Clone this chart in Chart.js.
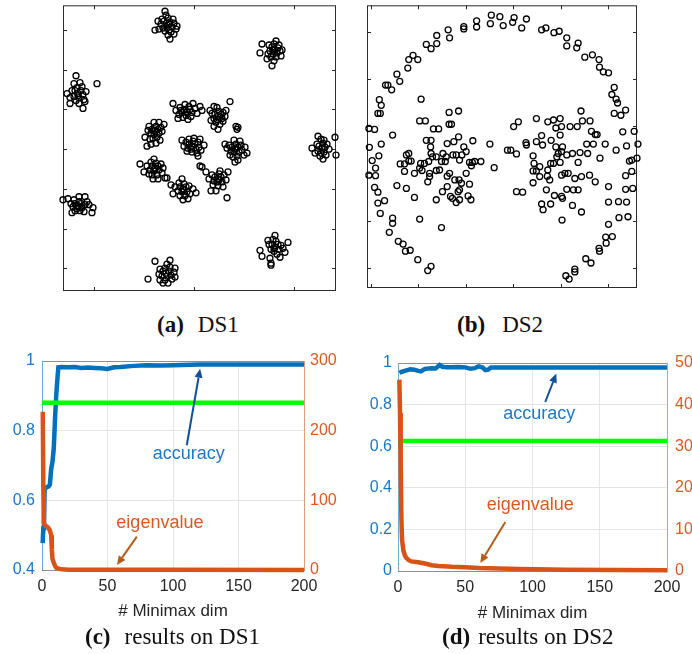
<!DOCTYPE html>
<html>
<head>
<meta charset="utf-8">
<script src="https://cdn.jsdelivr.net/npm/chart.js@4.4.1/dist/chart.umd.min.js"></script>
<style>
  html, body { margin: 0; padding: 0; background: #fff; overflow: hidden; }
  #wrap { position: relative; width: 692px; height: 654px; overflow: hidden; background: #fff; }
  canvas { position: absolute; }
  .cap { position: absolute; font-family: 'Liberation Serif', 'Times New Roman', serif; font-size: 23px;
         color: #111; white-space: nowrap; line-height: 23px; }
  .cap b { font-weight: bold; }
</style>
</head>
<body>
<div id="wrap">
  <canvas id="ds1" width="293" height="301" style="left:53px;top:0px"></canvas>
  <canvas id="ds2" width="290" height="298" style="left:357px;top:0px"></canvas>
  <canvas id="resC" width="350" height="290" style="left:0px;top:340px"></canvas>
  <canvas id="resD" width="360" height="290" style="left:350px;top:340px"></canvas>

  <div class="cap" style="left:157px;top:313px"><b>(a)</b><span style="margin-left:14px">DS1</span></div>
  <div class="cap" style="left:457px;top:313px"><b>(b)</b><span style="margin-left:17px">DS2</span></div>
  <div class="cap" style="left:85px;top:625px"><b>(c)</b><span style="margin-left:14px">results on DS1</span></div>
  <div class="cap" style="left:442px;top:625px"><b>(d)</b><span style="margin-left:8px">results on DS2</span></div>
</div>

<script>
// ---------- DS1: fifteen Gaussian blobs (7 outer, 7 on a ring, 1 in the middle) ----------
const dsOneTop = [[-2.7,12.5],[-2.4,12.8],[-3.0,12.9],[-2.2,12.3],[-3.1,12.2],[-2.6,13.2],[-2.9,11.9],[-2.3,11.8],[-3.3,12.6],[-2.0,12.7],[-2.5,12.0],[-2.8,13.5],[-3.5,12.1],[-1.8,12.1],[-2.1,13.1],[-3.2,13.1],[-2.6,11.5],[-2.9,13.9],[-2.4,11.1],[-3.9,12.0],[-1.7,12.4],[-2.0,11.6],[-3.6,12.9],[-2.7,12.2],[-2.5,12.6]];
const dsOneTopRight = [[8.1,10.0],[7.8,10.3],[8.4,10.2],[7.9,9.6],[8.3,9.7],[8.0,10.6],[7.6,9.9],[8.6,9.9],[8.2,9.3],[7.7,9.3],[8.5,10.5],[7.5,10.5],[8.8,10.0],[6.8,10.6],[6.6,9.7],[7.8,8.4],[7.3,9.1],[8.0,8.9],[8.7,9.4],[8.2,10.9],[7.4,9.6],[8.0,10.1],[7.9,10.0]];
const dsOneLeft = [[-11.6,5.6],[-11.3,5.9],[-11.9,5.9],[-11.5,5.2],[-11.1,5.5],[-12.0,5.3],[-11.7,6.2],[-11.2,6.3],[-11.8,4.9],[-11.0,5.0],[-12.2,5.9],[-11.4,6.7],[-10.8,5.8],[-12.4,5.2],[-11.8,7.4],[-9.7,6.6],[-12.7,5.6],[-12.4,4.6],[-11.1,4.1],[-11.5,4.6],[-10.9,4.8],[-12.0,6.6],[-11.6,5.4]];
const dsOneRight = [[12.8,0.0],[12.5,0.3],[13.1,0.2],[12.7,-0.4],[13.0,-0.3],[12.4,-0.2],[12.9,0.6],[13.3,0.5],[12.3,0.5],[12.6,-0.7],[13.2,-0.6],[12.9,-1.0],[11.8,0.1],[12.4,1.3],[12.7,1.0],[14.1,1.2],[14.2,-0.6],[13.5,0.0],[12.1,-0.4],[13.0,0.9]];
const dsOneLeftLow = [[-11.6,-5.7],[-11.9,-5.5],[-11.3,-5.5],[-11.7,-6.0],[-11.2,-5.9],[-12.1,-5.8],[-11.5,-5.3],[-12.3,-5.5],[-10.9,-5.6],[-11.4,-6.2],[-11.9,-6.2],[-10.7,-5.3],[-12.6,-5.0],[-13.1,-5.1],[-11.5,-4.8],[-10.9,-4.8],[-10.1,-5.9],[-10.2,-6.4],[-12.2,-6.4],[-11.0,-6.3],[-10.5,-5.6],[-12.0,-5.1],[-11.6,-5.8]];
const dsOneBottomRight = [[8.1,-9.9],[7.8,-9.6],[8.4,-9.6],[8.0,-10.3],[8.5,-10.1],[7.7,-10.1],[8.2,-9.3],[8.7,-9.7],[7.5,-9.6],[8.3,-10.6],[8.9,-10.0],[7.9,-9.1],[9.4,-9.4],[6.6,-10.2],[6.8,-10.8],[7.6,-11.0],[7.7,-11.5],[7.7,-11.7],[7.4,-9.2],[8.1,-8.7],[8.6,-10.9],[9.1,-10.4],[8.0,-10.0]];
const dsOneBottom = [[-2.8,-12.5],[-2.5,-12.3],[-3.1,-12.3],[-2.7,-12.8],[-2.3,-12.7],[-3.2,-12.8],[-2.9,-12.0],[-2.4,-11.9],[-3.4,-12.1],[-2.2,-13.1],[-2.9,-13.2],[-2.0,-12.4],[-4.6,-13.1],[-3.9,-11.3],[-2.4,-11.2],[-3.4,-13.2],[-3.1,-13.5],[-1.9,-12.0],[-1.9,-12.9],[-2.6,-13.5],[-3.5,-12.6],[-2.7,-11.6]];
const dsOneRing1 = [[-0.7,3.8],[-1.0,4.0],[-0.4,4.0],[-1.2,3.7],[-0.2,3.7],[-0.8,3.4],[-0.5,4.3],[-1.4,4.2],[0.1,4.1],[-0.9,4.5],[-1.5,3.5],[0.3,3.6],[-0.3,3.3],[-1.1,3.2],[0.6,4.3],[-2.1,4.6],[-1.8,3.9],[-0.6,3.0],[0.8,3.9],[-1.6,3.1],[-0.1,4.6],[-0.7,3.7],[-1.3,3.9]];
const dsOneRing2 = [[2.4,3.3],[2.1,3.5],[2.7,3.5],[2.3,3.0],[2.8,3.1],[2.0,3.1],[2.5,3.8],[2.9,3.7],[1.8,3.6],[2.2,2.7],[2.6,2.5],[3.1,3.3],[1.7,2.9],[2.9,2.8],[2.3,4.2],[3.6,4.8],[2.0,4.3],[3.2,3.9],[2.4,2.0],[2.0,2.3],[1.6,3.9],[4.3,2.0],[4.2,2.3],[4.4,2.2],[2.6,3.2]];
const dsOneRing3 = [[-3.9,1.8],[-4.2,2.0],[-3.6,2.0],[-4.0,1.5],[-3.5,1.6],[-4.3,1.6],[-3.8,2.3],[-3.3,2.2],[-4.5,2.3],[-3.7,1.2],[-4.1,1.1],[-3.4,0.9],[-4.6,1.9],[-3.2,1.8],[-4.0,2.7],[-3.5,2.7],[-4.4,1.0],[-3.8,0.6],[-3.0,2.5],[-4.3,0.5],[-3.9,1.9],[-4.9,1.2]];
const dsOneRing4 = [[4.1,0.0],[3.8,0.2],[4.4,0.2],[4.0,-0.3],[4.5,-0.3],[3.7,-0.2],[4.2,0.5],[4.7,0.4],[3.5,0.4],[4.3,-0.7],[3.9,-0.8],[4.8,-0.1],[3.3,0.1],[4.6,0.8],[4.0,0.9],[5.1,0.2],[3.1,0.5],[4.4,-1.1],[5.0,-0.6],[3.6,-0.6],[4.1,-1.3],[5.3,-0.4],[4.2,0.1]];
const dsOneRing5 = [[-3.9,-1.9],[-4.2,-1.7],[-3.6,-1.7],[-4.0,-2.2],[-3.5,-2.1],[-4.4,-2.1],[-3.8,-1.4],[-4.3,-1.3],[-3.3,-1.5],[-3.7,-2.6],[-4.2,-2.6],[-3.2,-2.4],[-4.7,-1.7],[-4.5,-2.5],[-3.1,-1.9],[-5.4,-1.5],[-4.0,-1.0],[-3.6,-3.0],[-4.1,-3.0],[-2.7,-2.9],[-2.9,-2.9],[-5.0,-2.3],[-3.9,-2.0]];
const dsOneRing6 = [[2.4,-3.0],[2.1,-2.8],[2.7,-2.8],[2.3,-3.3],[2.8,-3.3],[2.0,-3.2],[2.5,-2.5],[3.0,-2.6],[1.8,-2.6],[2.4,-3.7],[2.9,-3.8],[1.9,-3.6],[3.2,-3.1],[1.5,-3.0],[2.6,-2.2],[3.3,-4.9],[0.6,-1.7],[0.8,-1.8],[1.2,-2.3],[1.7,-4.2],[2.2,-4.2],[3.4,-2.3],[2.5,-3.1]];
const dsOneRing7 = [[-1.1,-4.0],[-1.4,-3.8],[-0.8,-3.8],[-1.2,-4.3],[-0.7,-4.3],[-1.6,-4.2],[-1.0,-3.5],[-0.5,-3.7],[-1.5,-3.4],[-0.9,-4.7],[-1.4,-4.7],[-0.4,-4.5],[-1.9,-3.8],[-2.1,-4.5],[-0.1,-4.0],[-1.2,-3.0],[-0.6,-5.0],[-1.1,-5.1],[-2.3,-3.6],[0.2,-4.4],[-1.0,-4.1]];
const dsOneCenter = [[-0.2,0.3],[-0.5,0.5],[0.1,0.5],[-0.3,0.0],[0.2,0.0],[-0.6,0.1],[-0.1,0.8],[0.4,0.7],[-0.8,0.7],[0.5,0.2],[-0.2,-0.3],[0.3,-0.4],[-0.7,-0.2],[0.7,-0.1],[-1.0,0.3],[0.0,1.1],[-0.5,1.0],[0.6,1.0],[-1.2,0.9],[0.4,-0.7],[1.0,0.4],[-0.2,0.2],[-4.7,0.3]];

const dsOneXTicks = [-10, 0, 10];
const dsOneYTicks = [-12, -8, -4, 0, 4, 8, 12];

// ---------- DS2: an outer arc and two inner blobs ----------
const dsTwoArc = [[-0.46,2.35],[-0.28,2.32],[0.02,2.30],[0.28,2.27],[-0.77,2.23],[-0.77,2.10],[-1.04,2.11],[-1.04,2.06],[-0.48,2.17],[-0.21,2.13],[-0.01,2.20],[0.18,2.08],[0.60,2.04],[0.69,2.08],[0.86,1.98],[0.97,2.01],[1.13,1.87],[1.13,1.70],[1.37,1.76],[1.34,1.66],[1.51,1.46],[1.67,1.51],[1.81,1.41],[1.82,1.25],[1.90,1.15],[2.01,1.13],[2.13,0.82],[2.08,0.67],[2.17,0.57],[2.20,0.49],[2.13,0.27],[2.27,0.23],[2.37,0.34],[2.31,-0.12],[2.55,-0.11],[2.63,-0.38],[2.39,-0.42],[2.17,-0.51],[2.50,-0.72],[2.61,-0.68],[2.45,-0.74],[2.37,-1.05],[2.50,-0.96],[2.52,-1.32],[2.37,-1.34],[2.22,-1.60],[2.39,-1.61],[2.42,-1.92],[2.23,-1.94],[2.01,-1.61],[2.01,-2.08],[2.09,-2.34],[1.95,-2.35],[1.96,-2.48],[1.81,-2.59],[1.82,-2.65],[1.64,-2.90],[1.53,-2.81],[1.30,-3.03],[1.30,-3.09],[1.11,-3.17],[1.18,-3.24],[-1.73,-2.97],[-1.80,-3.06],[-2.01,-2.83],[-2.17,-2.63],[-2.27,-2.65],[-2.32,-2.50],[-2.42,-2.44],[-2.61,-2.25],[-2.54,-1.95],[-2.54,-2.06],[-2.80,-1.85],[-2.85,-1.63],[-2.71,-1.58],[-2.92,-1.30],[-2.85,-1.40],[-3.04,-1.04],[-2.90,-0.89],[-2.90,-1.05],[-2.97,-0.73],[-3.03,-0.45],[-2.78,-0.38],[-2.83,-0.63],[-2.92,-0.07],[-3.04,-0.05],[-2.80,0.27],[-2.85,0.27],[-2.78,0.44],[-2.82,0.56],[-2.69,0.87],[-2.56,0.77],[-2.64,0.87],[-2.39,0.95],[-2.45,1.10],[-2.22,1.23],[-2.20,1.41],[-2.11,1.50],[-2.01,1.41],[-1.83,1.73],[-1.73,1.64],[-1.61,1.75],[-1.61,1.92],[-1.34,1.87],[-1.37,2.04],[-1.94,0.57],[-2.54,-0.19]];
const dsTwoLeftBlob = [[-1.35,0.29],[-1.15,0.32],[-1.97,0.11],[-1.85,0.11],[-1.35,0.04],[-1.30,0.04],[-1.57,-0.06],[-1.68,-0.06],[-1.83,-0.30],[-1.73,-0.30],[-1.39,-0.37],[-1.15,-0.23],[-1.25,-0.33],[-1.04,-0.44],[-0.85,-0.31],[-0.49,-0.38],[-1.74,-0.44],[-1.73,-0.58],[-2.20,-0.58],[-2.25,-0.61],[-2.15,-0.74],[-2.20,-0.74],[-2.38,-0.80],[-2.29,-0.80],[-1.95,-0.79],[-1.87,-0.79],[-1.78,-0.75],[-1.70,-0.65],[-1.62,-0.65],[-1.51,-0.75],[-1.55,-0.93],[-1.43,-0.75],[-1.27,-0.61],[-1.20,-0.61],[-1.08,-0.61],[-1.13,-0.72],[-0.92,-0.77],[-0.86,-0.77],[-0.81,-0.75],[-0.68,-0.75],[-0.99,-1.00],[-1.34,-1.00],[-1.39,-1.06],[-1.23,-1.14],[-1.14,-1.14],[-1.09,-1.21],[-0.92,-1.23],[-1.62,-0.94],[-1.76,-1.00],[-1.76,-1.07],[-1.80,-1.18],[-1.97,-0.89],[-2.08,-1.00],[-1.92,-0.94],[-2.29,-0.96],[-2.45,-1.26],[-2.25,-1.32],[-2.08,-1.51],[-1.62,-1.56],[-1.49,-1.39],[-1.39,-1.28],[-1.32,-1.49],[-1.28,-1.53],[-1.20,-1.62],[-1.13,-1.35],[-1.16,-1.39],[-1.13,-1.56],[-0.95,-1.48],[-0.89,-1.56],[-0.88,-0.84],[-0.99,-0.54],[-1.48,-0.58],[-1.41,-0.65],[-0.40,-0.88],[-1.97,-1.97],[-1.51,-2.15]];
const dsTwoRightBlob = [[0.11,0.09],[0.01,-0.01],[0.49,0.16],[0.73,0.09],[0.85,0.13],[0.99,0.16],[0.90,-0.04],[1.02,-0.01],[1.20,-0.01],[1.35,-0.01],[1.46,0.11],[1.62,0.11],[1.65,-0.11],[1.73,-0.18],[1.77,-0.18],[1.43,0.32],[0.60,-0.20],[0.99,-0.19],[-0.12,-0.51],[-0.05,-0.51],[0.07,-0.59],[0.27,-0.35],[0.28,-0.40],[0.49,-0.33],[0.62,-0.40],[0.80,-0.30],[0.90,-0.44],[1.04,-0.44],[0.95,-0.58],[0.92,-0.65],[0.85,-0.79],[0.73,-0.93],[0.79,-0.79],[0.99,-0.77],[1.02,-0.54],[1.13,-0.61],[1.25,-0.58],[1.41,-0.56],[1.57,-0.58],[1.55,-0.38],[1.69,-0.38],[1.83,-0.68],[1.94,-0.38],[0.42,-0.63],[0.44,-0.79],[0.42,-0.95],[0.49,-0.95],[0.56,-0.86],[0.42,-1.20],[0.56,-1.07],[0.77,-1.14],[0.72,-1.06],[1.02,-1.04],[1.16,-1.00],[1.09,-1.00],[1.30,-1.11],[1.44,-1.07],[1.61,-1.04],[1.73,-1.18],[1.37,-0.77],[1.37,-1.35],[1.27,-1.35],[1.13,-1.34],[1.02,-1.49],[1.04,-1.53],[0.87,-1.47],[0.79,-1.65],[0.60,-1.65],[0.63,-1.77],[0.70,-1.35],[0.07,-1.39],[0.20,-1.40],[1.25,-1.68],[1.44,-1.82],[1.03,-1.99],[2.01,-1.28]];

const dsTwoXTicks = [-3, -2, -1, 0, 1, 2];
const dsTwoYTicks = [-3, -2, -1, 0, 1, 2];

// ---------- accuracy / eigenvalue curves against the number of Minimax dimensions ----------
const dimTicks = [0, 50, 100, 150, 200];

const accDimDS1 = [0.5, 1, 1.5, 2, 3, 4, 5, 6, 7, 8, 9, 10, 11, 12, 12.5, 15, 20, 25, 30, 35, 40, 45, 50, 55, 60, 70, 80, 90, 100, 120, 150, 200];
const accDS1    = [0.477, 0.52, 0.53, 0.63, 0.636, 0.638, 0.64, 0.645, 0.69, 0.71, 0.75, 0.84, 0.91, 0.96, 0.982, 0.983, 0.982, 0.983, 0.98, 0.981, 0.98, 0.979, 0.977, 0.982, 0.983, 0.986, 0.988, 0.987, 0.988, 0.99, 0.99, 0.99];
const eigDimDS1 = [0.6, 1, 1.4, 2, 3, 4, 5, 6, 7, 7.5, 8, 9, 10, 11, 13, 15, 20, 40, 100, 200];
const eigDS1    = [227, 120, 68, 65, 63, 62, 60, 57, 50, 30, 16, 10, 6, 3, 2, 1, 0.5, 0.3, 0.2, 0.1];
const baselineAccDS1 = 0.88;

const accDimDS2 = [1, 3, 5, 7, 9, 12, 15, 17, 20, 25, 28, 31, 33, 36, 40, 45, 50, 54, 57, 60, 63, 65, 67, 69, 80, 100, 150, 200];
const accDS2    = [0.953, 0.958, 0.962, 0.966, 0.97, 0.968, 0.962, 0.96, 0.972, 0.975, 0.974, 0.99, 0.982, 0.979, 0.98, 0.981, 0.979, 0.972, 0.975, 0.984, 0.978, 0.966, 0.968, 0.978, 0.978, 0.978, 0.978, 0.978];
const eigDimDS2 = [1, 1.5, 2, 2.5, 3, 4, 5, 6, 8, 10, 15, 20, 25, 30, 40, 50, 60, 75, 90, 125, 200];
const eigDS2    = [46, 38, 26, 13, 7.5, 5, 3.8, 3.2, 2.6, 2.3, 2.1, 1.8, 1.4, 1.2, 1.0, 0.9, 0.7, 0.6, 0.5, 0.3, 0.2];
const baselineAccDS2 = 0.625;

const accTicksDS1 = [0.4, 0.6, 0.8, 1];
const eigTicksDS1 = [0, 100, 200, 300];
const accTicksDS2 = [0, 0.2, 0.4, 0.6, 0.8, 1];
const eigTicksDS2 = [0, 10, 20, 30, 40, 50];

// ---------- shared drawing helpers ----------
const BLUE = '#0072BD', ORANGE = '#D95319', GREEN = '#00FF00';
const SANS = "'Liberation Sans', Arial, Helvetica, sans-serif";
Chart.defaults.font.family = SANS;

const toPoints = (pairs) => pairs.map(([x, y]) => ({ x, y }));
const zip = (xs, ys) => xs.map((x, i) => ({ x, y: ys[i] }));
const fixedTicks = (values) => (scale) => { scale.ticks = values.map(v => ({ value: v })); };

// MATLAB-style boxed axes with short inward tick marks on every side
function boxPlugin(xTicks, yTicks) {
  return {
    id: 'box',
    beforeDatasetsDraw(chart) {
      const { ctx, chartArea: a, scales: { x, y } } = chart;
      ctx.save();
      ctx.strokeStyle = '#2b2b2b';
      ctx.lineWidth = 1;
      ctx.strokeRect(a.left + 0.5, a.top + 0.5, a.width - 1, a.height - 1);
      const L = 4;
      ctx.beginPath();
      xTicks.forEach(v => {
        const p = Math.round(x.getPixelForValue(v)) + 0.5;
        ctx.moveTo(p, a.bottom); ctx.lineTo(p, a.bottom - L);
        ctx.moveTo(p, a.top); ctx.lineTo(p, a.top + L);
      });
      yTicks.forEach(v => {
        const p = Math.round(y.getPixelForValue(v)) + 0.5;
        ctx.moveTo(a.left, p); ctx.lineTo(a.left + L, p);
        ctx.moveTo(a.right, p); ctx.lineTo(a.right - L, p);
      });
      ctx.stroke();
      ctx.restore();
    }
  };
}

function scatterChart(id, clusters, xr, yr, xTicks, yTicks, pad) {
  const pts = [].concat(...clusters.map(toPoints));
  return new Chart(document.getElementById(id), {
    type: 'scatter',
    data: { datasets: [{
      data: pts,
      pointStyle: 'circle',
      pointRadius: 3,
      pointBorderWidth: 1.3,
      pointBorderColor: '#000',
      pointBackgroundColor: 'rgba(0,0,0,0)',
      clip: false
    }]},
    options: {
      responsive: false, animation: false, devicePixelRatio: 1,
      layout: { padding: pad },
      plugins: { legend: { display: false }, tooltip: { enabled: false } },
      scales: {
        x: { type: 'linear', min: xr[0], max: xr[1], display: false },
        y: { type: 'linear', min: yr[0], max: yr[1], display: false }
      }
    },
    plugins: [boxPlugin(xTicks, yTicks)]
  });
}

// text labels and arrows placed in data coordinates, plus the grey top edge of the box
function notesPlugin(items) {
  return {
    id: 'notes',
    beforeDatasetsDraw(chart) {
      const { ctx, chartArea: a } = chart;
      ctx.save();
      ctx.strokeStyle = '#8f8f8f';
      ctx.lineWidth = 1;
      ctx.beginPath();
      ctx.moveTo(a.left, a.top + 0.5); ctx.lineTo(a.right, a.top + 0.5);
      ctx.stroke();
      ctx.restore();
    },
    afterDatasetsDraw(chart) {
      const { ctx, scales } = chart;
      const xs = scales.x;
      ctx.save();
      items.forEach(it => {
        const ys = scales[it.axis];
        if (it.kind === 'text') {
          ctx.font = '18px ' + SANS;
          ctx.fillStyle = it.color;
          ctx.textAlign = 'center';
          ctx.textBaseline = 'middle';
          ctx.fillText(it.text, xs.getPixelForValue(it.x), ys.getPixelForValue(it.y));
        } else {
          const x0 = xs.getPixelForValue(it.from[0]), y0 = ys.getPixelForValue(it.from[1]);
          const x1 = xs.getPixelForValue(it.to[0]),   y1 = ys.getPixelForValue(it.to[1]);
          const ang = Math.atan2(y1 - y0, x1 - x0), head = 9, half = 4;
          const bx = x1 - head * Math.cos(ang), by = y1 - head * Math.sin(ang);
          ctx.strokeStyle = it.color;
          ctx.fillStyle = it.color;
          ctx.lineWidth = 2;
          ctx.beginPath(); ctx.moveTo(x0, y0); ctx.lineTo(bx, by); ctx.stroke();
          ctx.beginPath();
          ctx.moveTo(x1, y1);
          ctx.lineTo(bx + half * Math.sin(ang), by - half * Math.cos(ang));
          ctx.lineTo(bx - half * Math.sin(ang), by + half * Math.cos(ang));
          ctx.closePath(); ctx.fill();
        }
      });
      ctx.restore();
    }
  };
}

function resultChart(id, c) {
  const line = { pointRadius: 0, borderWidth: 4.5, tension: 0, borderCapStyle: 'butt', fill: false, clip: false };
  return new Chart(document.getElementById(id), {
    type: 'line',
    data: { datasets: [
      Object.assign({ label: 'eigenvalue', data: zip(c.eigDim, c.eig), yAxisID: 'yR', borderColor: ORANGE, order: 0 }, line),
      Object.assign({ label: 'baseline', data: [{ x: 0, y: c.base }, { x: 200, y: c.base }], yAxisID: 'yL', borderColor: GREEN, order: 1 }, line),
      Object.assign({ label: 'accuracy', data: zip(c.accDim, c.acc), yAxisID: 'yL', borderColor: BLUE, order: 2 }, line)
    ]},
    options: {
      responsive: false, animation: false, devicePixelRatio: 1,
      layout: { padding: { top: c.padTop, left: 0, right: 0, bottom: 0 } },
      plugins: { legend: { display: false }, tooltip: { enabled: false } },
      scales: {
        x: {
          type: 'linear', min: 0, max: 200,
          afterBuildTicks: fixedTicks(dimTicks),
          afterFit: (s) => { s.height = c.xHeight; },
          ticks: { color: '#262626', font: { size: 16 }, padding: 7, maxRotation: 0, callback: v => String(v) },
          grid: { color: '#e4e4e4', drawTicks: false },
          border: { color: '#8f8f8f' },
          title: { display: true, text: '# Minimax dim', color: '#262626', font: { size: 17 }, padding: { top: 0, bottom: c.titlePad } }
        },
        yL: {
          type: 'linear', position: 'left', min: c.accTicks[0], max: c.accTicks[c.accTicks.length - 1],
          afterBuildTicks: fixedTicks(c.accTicks),
          afterFit: (s) => { s.width = c.leftW; },
          ticks: { color: '#1a78c4', font: { size: 16 }, padding: c.leftPad, callback: v => String(v) },
          grid: { color: '#e4e4e4', drawTicks: false },
          border: { color: 'rgba(0,114,189,0.5)' }
        },
        yR: {
          type: 'linear', position: 'right', min: c.eigTicks[0], max: c.eigTicks[c.eigTicks.length - 1],
          afterBuildTicks: fixedTicks(c.eigTicks),
          afterFit: (s) => { s.width = c.rightW; },
          ticks: { color: '#dc5a22', font: { size: 16 }, padding: c.rightPad, callback: v => String(v) },
          grid: { drawOnChartArea: false, drawTicks: false },
          border: { color: 'rgba(217,83,25,0.5)' }
        }
      }
    },
    plugins: [notesPlugin(c.notes)]
  });
}

// ---------- build the four panels ----------
scatterChart('ds1',
  [dsOneTop, dsOneTopRight, dsOneLeft, dsOneRight, dsOneLeftLow, dsOneBottomRight, dsOneBottom,
   dsOneRing1, dsOneRing2, dsOneRing3, dsOneRing4, dsOneRing5, dsOneRing6, dsOneRing7, dsOneCenter],
  [-13.1, 14.2], [-14.3, 14.5], dsOneXTicks, dsOneYTicks,
  { left: 10, right: 10, top: 3, bottom: 10 });

scatterChart('ds2',
  [dsTwoArc, dsTwoLeftBlob, dsTwoRightBlob],
  [-3.08, 2.61], [-3.43, 2.56], dsTwoXTicks, dsTwoYTicks,
  { left: 10, right: 10, top: 5, bottom: 10 });

resultChart('resC', {
  accDim: accDimDS1, acc: accDS1, eigDim: eigDimDS1, eig: eigDS1, base: baselineAccDS1,
  accTicks: accTicksDS1, eigTicks: eigTicksDS1,
  padTop: 21, xHeight: 60, leftW: 42, rightW: 46, leftPad: 7, rightPad: 6, titlePad: 8,
  notes: [
    { kind: 'text', text: 'accuracy', x: 112, y: 0.734, axis: 'yL', color: '#1f77c6' },
    { kind: 'arrow', from: [110.5, 0.758], to: [120.7, 0.978], axis: 'yL', color: '#104f9c' },
    { kind: 'text', text: 'eigenvalue', x: 90, y: 66.9, axis: 'yR', color: '#d95a21' },
    { kind: 'arrow', from: [72.4, 47.8], to: [57.2, 7.2], axis: 'yR', color: '#b35d1d' }
  ]
});

resultChart('resD', {
  accDim: accDimDS2, acc: accDS2, eigDim: eigDimDS2, eig: eigDS2, base: baselineAccDS2,
  accTicks: accTicksDS2, eigTicks: eigTicksDS2,
  padTop: 23, xHeight: 59, leftW: 48, rightW: 43, leftPad: 6, rightPad: 8, titlePad: 6,
  notes: [
    { kind: 'text', text: 'accuracy', x: 105, y: 0.756, axis: 'yL', color: '#1f77c6' },
    { kind: 'arrow', from: [109.5, 0.8125], to: [117.7, 0.949], axis: 'yL', color: '#104f9c' },
    { kind: 'text', text: 'eigenvalue', x: 98.4, y: 15.8, axis: 'yR', color: '#d95a21' },
    { kind: 'arrow', from: [79.8, 11.8], to: [61.2, 1.9], axis: 'yR', color: '#b35d1d' }
  ]
});
</script>
</body>
</html>
